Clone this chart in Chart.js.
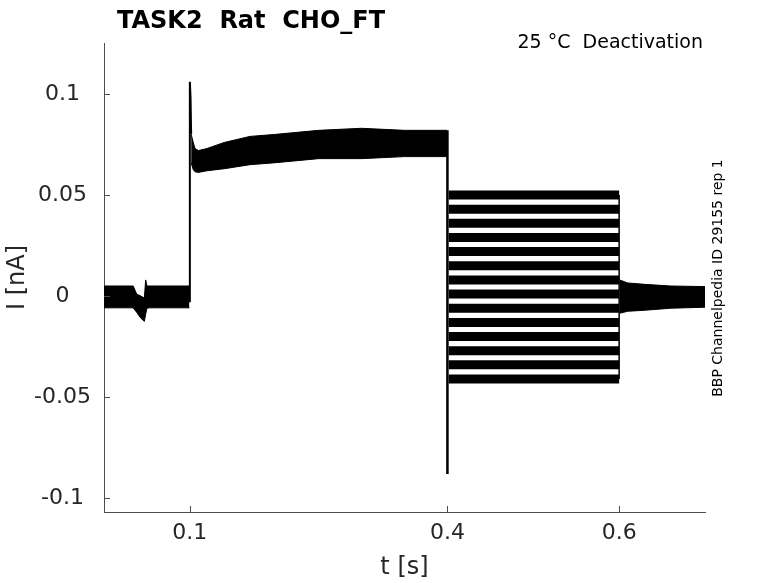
<!DOCTYPE html>
<html>
<head>
<meta charset="UTF-8">
<title>TASK2 Rat CHO_FT</title>
<script src="https://cdn.jsdelivr.net/npm/chart.js"></script>
<style>
  body { margin: 0; background: #fff; }
  canvas { display: block; }
</style>
</head>
<body>
<canvas id="traceChart" width="778" height="583"></canvas>
<script>
// labels
const titleText = 'TASK2  Rat  CHO_FT';
const condText = '25 \u00B0C  Deactivation';
const sideText = 'BBP Channelpedia ID 29155 rep 1';

// axis ticks
const xTicks = [0.1, 0.4, 0.6];
const yTicks = [-0.1, -0.05, 0, 0.05, 0.1];

// holding (0 - 0.1 s): noise envelope shared by all sweeps, nA
const holdTime  = [0, 0.034, 0.038, 0.043, 0.047, 0.0485, 0.05, 0.053, 0.0995];
const holdUpper = [0.005, 0.005, 0.001, 0.0, -0.001, 0.008, 0.005, 0.005, 0.005];
const holdLower = [-0.0058, -0.0058, -0.008, -0.011, -0.0125, -0.009, -0.006, -0.0058, -0.0058];

// onset spike at 0.1 s
const onTime = [0.1, 0.1, 0.1008, 0.1015];
const onCur  = [-0.003, 0.106, 0.098, 0.08];

// pre-pulse (0.1 - 0.4 s) envelope
const preTime  = [0.1015, 0.104, 0.106, 0.11, 0.12, 0.14, 0.17, 0.2, 0.25, 0.3, 0.35, 0.3995];
const preUpper = [0.08, 0.076, 0.073, 0.072, 0.073, 0.076, 0.079, 0.08, 0.082, 0.083, 0.082, 0.082];
const preLower = [0.066, 0.0625, 0.0615, 0.0612, 0.062, 0.063, 0.065, 0.066, 0.068, 0.068, 0.069, 0.069];

// step at 0.4 s down to tail spike
const offTime = [0.4, 0.4];
const offCur  = [0.082, -0.088];

// test pulses (0.4 - 0.6 s): one level per sweep
const testStart = 0.4015;
const testEnd = 0.6;
const testLevels = [0.050, 0.043, 0.036, 0.029, 0.022, 0.015, 0.008, 0.001,
                    -0.006, -0.013, -0.020, -0.027, -0.034, -0.041];

// return to holding after 0.6 s
const tailTime  = [0.6005, 0.61, 0.63, 0.66, 0.7];
const tailUpper = [0.008, 0.0065, 0.0058, 0.005, 0.0047];
const tailLower = [-0.0085, -0.0075, -0.007, -0.006, -0.0055];

const axisColor = '#4d4d4d';
const textColor = '#262626';
Chart.defaults.font.family = '"DejaVu Sans", sans-serif';

const toPoints = (ts, vs) => ts.map((t, i) => ({ x: t, y: vs[i] }));

function band(ts, hi, lo) {
    return [
        { data: toPoints(ts, hi), borderColor: '#000', borderWidth: 1, fill: false },
        { data: toPoints(ts, lo), borderColor: '#000', borderWidth: 1, backgroundColor: '#000', fill: '-1' }
    ];
}

function line(ts, vs, w) {
    return { data: toPoints(ts, vs), borderColor: '#000', borderWidth: w, fill: false };
}

const datasets = [
    ...band(holdTime, holdUpper, holdLower),
    line(onTime, onCur, 2),
    ...band(preTime, preUpper, preLower),
    line(offTime, offCur, 2.5),
    ...testLevels.map(v => line([testStart, testEnd], [v, v], 9)),
    line([testEnd, testEnd], [testLevels[0], testLevels[testLevels.length - 1]], 1.5),
    ...band(tailTime, tailUpper, tailLower)
];

// MATLAB style inward ticks and the free texts
const decorPlugin = {
    id: 'decor',
    afterDraw(chart) {
        const ctx = chart.ctx;
        const { left, bottom } = chart.chartArea;
        const xs = chart.scales.x, ys = chart.scales.y;
        ctx.save();
        ctx.strokeStyle = axisColor;
        ctx.lineWidth = 1;
        xs.ticks.forEach(t => {
            const px = Math.round(xs.getPixelForValue(t.value)) + 0.5;
            ctx.beginPath(); ctx.moveTo(px, bottom); ctx.lineTo(px, bottom - 6); ctx.stroke();
        });
        ys.ticks.forEach(t => {
            const py = Math.round(ys.getPixelForValue(t.value)) + 0.5;
            ctx.beginPath(); ctx.moveTo(left, py); ctx.lineTo(left + 6, py); ctx.stroke();
        });

        ctx.fillStyle = '#000';
        ctx.textBaseline = 'alphabetic';
        ctx.textAlign = 'left';
        ctx.font = 'bold 24px "DejaVu Sans"';
        ctx.fillText(titleText, 117, 28);

        ctx.textAlign = 'right';
        ctx.font = '19px "DejaVu Sans"';
        ctx.fillText(condText, 703, 48);

        ctx.translate(721.5, 278);
        ctx.rotate(-Math.PI / 2);
        ctx.textAlign = 'center';
        ctx.font = '14px "DejaVu Sans"';
        ctx.fillText(sideText, 0, 0);
        ctx.restore();
    }
};

new Chart(document.getElementById('traceChart'), {
    type: 'line',
    data: { datasets: datasets },
    options: {
        responsive: false,
        animation: false,
        devicePixelRatio: 1,
        layout: { padding: { top: 43, right: 73, left: 0, bottom: 0 } },
        elements: { point: { radius: 0 }, line: { tension: 0 } },
        plugins: { legend: { display: false }, tooltip: { enabled: false } },
        scales: {
            x: {
                type: 'linear',
                min: 0,
                max: 0.7,
                afterBuildTicks: s => { s.ticks = xTicks.map(v => ({ value: v })); },
                afterFit: s => { s.height = 71; },
                grid: { display: false, drawTicks: false },
                border: { display: true, color: axisColor, width: 1 },
                ticks: { padding: 8, color: textColor, font: { size: 22 }, callback: v => String(v) },
                title: { display: true, text: 't [s]', color: textColor, font: { size: 24 }, padding: { top: 0, bottom: 1 } }
            },
            y: {
                type: 'linear',
                min: -0.1068,
                max: 0.1252,
                afterBuildTicks: s => { s.ticks = yTicks.map(v => ({ value: v })); },
                afterFit: s => { s.width = 104; },
                grid: { display: false, drawTicks: false },
                border: { display: true, color: axisColor, width: 1 },
                ticks: { padding: 13, crossAlign: 'center', color: textColor, font: { size: 22 }, callback: v => String(v) },
                title: { display: true, text: 'I [nA]', color: textColor, font: { size: 24 }, padding: { top: 3, bottom: 0 } }
            }
        }
    },
    plugins: [decorPlugin]
});
</script>
</body>
</html>
